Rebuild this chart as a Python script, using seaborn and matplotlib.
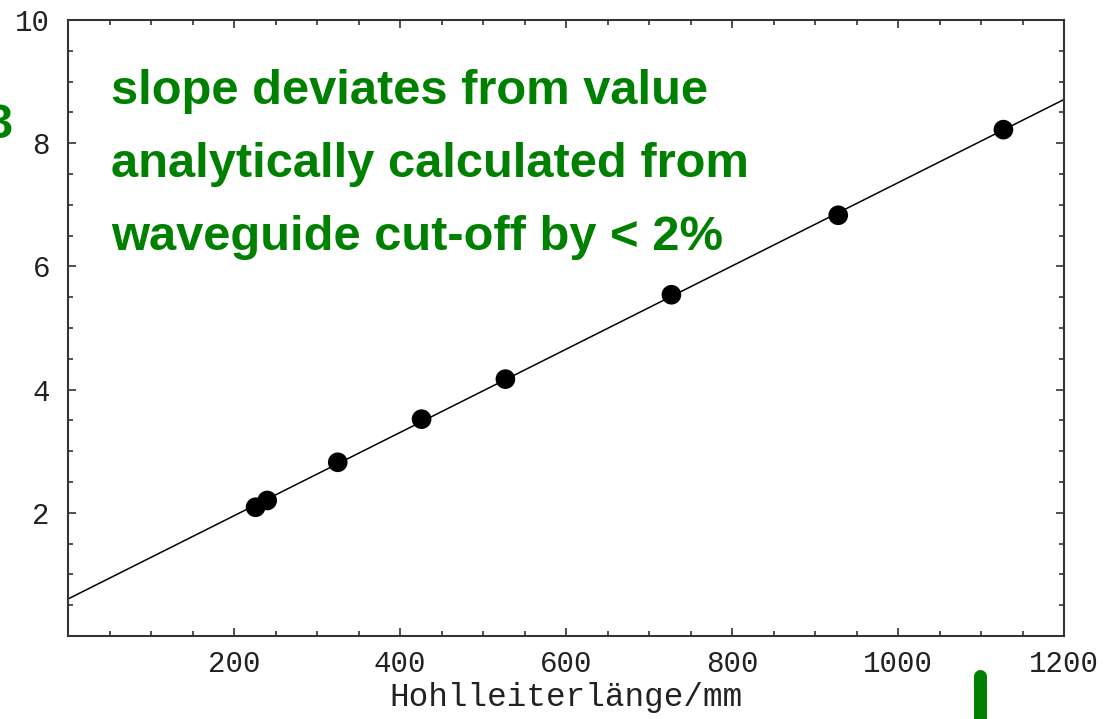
import numpy as np
import pandas as pd
import matplotlib
matplotlib.use("Agg")
import matplotlib.pyplot as plt
from matplotlib.lines import Line2D
from matplotlib.ticker import MultipleLocator, FixedLocator
import seaborn as sns

# Measured values: waveguide length (mm) and the resulting quantity
length_mm = [226, 240, 325, 426, 527, 727, 928, 1127]
measured = [2.09, 2.20, 2.82, 3.52, 4.17, 5.54, 6.83, 8.22]

x_ticks = [200, 400, 600, 800, 1000, 1200]
y_ticks = [2, 4, 6, 8, 10]
x_label = "Hohlleiterlänge/mm"
note_lines = [
    "slope deviates from value",
    "analytically calculated from",
    "waveguide cut-off by < 2%",
]

df = pd.DataFrame({"length": length_mm, "value": measured})

sns.set_theme(style="white")
plt.rcParams["font.family"] = ["Liberation Mono", "DejaVu Sans Mono"]

W, H, DPI = 1114, 719, 100
fig = plt.figure(figsize=(W / DPI, H / DPI), dpi=DPI)
ax = fig.add_axes([68 / W, 1 - 636 / H, (1064 - 68) / W, (636 - 20) / H])

x_min, x_max = 0, 1200
ax.set_xlim(x_min, x_max)
ax.set_ylim(0, 10)

# least-squares straight line through the measurements
slope, intercept = np.polyfit(df["length"], df["value"], 1)
fit = pd.DataFrame({"length": [x_min, x_max]})
fit["value"] = intercept + slope * fit["length"]
sns.lineplot(data=fit, x="length", y="value", ax=ax, color="black",
             linewidth=1.1, zorder=2)
sns.scatterplot(data=df, x="length", y="value", ax=ax, color="black",
                s=200, edgecolor="none", zorder=3)

# frame with inward ticks on all sides
ink = "#333333"
for sp in ax.spines.values():
    sp.set_visible(True)
    sp.set_color(ink)
    sp.set_linewidth(1.5)
ax.xaxis.set_major_locator(FixedLocator(x_ticks))
ax.yaxis.set_major_locator(FixedLocator(y_ticks))
ax.xaxis.set_minor_locator(MultipleLocator(50))
ax.yaxis.set_minor_locator(MultipleLocator(0.5))
ax.tick_params(which="both", direction="in", top=True, right=True,
               bottom=True, left=True, color=ink, width=1.2)
ax.tick_params(which="major", length=6)
ax.tick_params(which="minor", length=3.5)
ax.tick_params(axis="x", which="major", pad=10, labelsize=21, labelcolor="#222222")
ax.tick_params(axis="y", which="major", pad=13, labelsize=21, labelcolor="#222222")
ax.set_xticklabels([str(v) for v in x_ticks])
ax.set_yticklabels([str(v) for v in y_ticks])
ax.set_xlabel(x_label, fontsize=23.5, color="#222222", labelpad=3)
ax.set_ylabel("")

green = "#008000"
sans_bold = dict(family=["Liberation Sans", "DejaVu Sans"], fontweight="bold",
                 color=green, fontsize=35.2)
baselines = [104, 177, 250]
for line, yb in zip(note_lines, baselines):
    fig.text(111 / W, 1 - yb / H, line, ha="left", va="baseline", **sans_bold)

# edge fragments of neighbouring slide content
fig.text(13 / W, 1 - 138 / H, "3", ha="right", va="baseline", **sans_bold)
fig.add_artist(Line2D([979.5 / W, 979.5 / W], [1 - 676 / H, -0.05],
                      transform=fig.transFigure, color=green,
                      linewidth=13 * 72 / DPI, solid_capstyle="round"))

fig.savefig("out.png", dpi=DPI)
